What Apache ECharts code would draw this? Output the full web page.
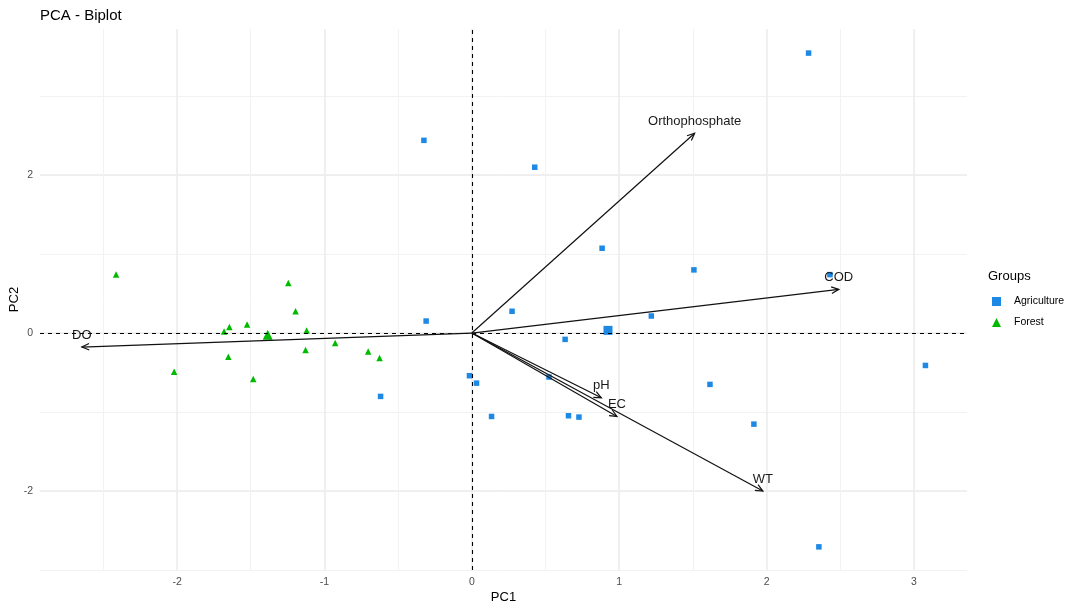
<!DOCTYPE html>
<html>
<head>
<meta charset="utf-8">
<title>PCA - Biplot</title>
<script src="https://cdn.jsdelivr.net/npm/echarts@6/dist/echarts.min.js"></script>
<style>
  html, body { margin: 0; padding: 0; background: #fff; }
  #chart { width: 1073px; height: 609px; }
</style>
</head>
<body>
<div id="chart"></div>
<script>
// Sample scores on the first two principal components
const agriPC1 = [2.285, -0.325, 0.427, 0.884, 1.507, 2.43, 0.273, 1.218, -0.310, 0.633, 3.078,
                 -0.016, 0.032, 0.524, 1.616, -0.619, 0.134, 0.656, 0.727, 1.914, 2.355];
const agriPC2 = [3.545, 2.44, 2.10, 1.074, 0.80, 0.74, 0.276, 0.216, 0.152, -0.08, -0.41,
                 -0.54, -0.634, -0.557, -0.65, -0.802, -1.056, -1.047, -1.064, -1.153, -2.707];
const forestPC1 = [-2.414, -1.245, -1.196, -1.525, -1.645, -1.681, -1.121, -0.927, -1.128,
                   -0.703, -0.626, -1.652, -2.02, -1.483];
const forestPC2 = [0.742, 0.634, 0.275, 0.11, 0.076, 0.02, 0.034, -0.127, -0.215,
                   -0.232, -0.317, -0.30, -0.49, -0.583];

// Group centroids
const agriMean = [0.924, 0.034];
const forestMean = [-1.385, -0.02];

// Variable loadings (scaled for the biplot)
const variables = ['Orthophosphate', 'COD', 'DO', 'pH', 'EC', 'WT'];
const loadPC1 = [1.512, 2.49, -2.646, 0.879, 0.985, 1.975];
const loadPC2 = [2.53, 0.554, -0.177, -0.819, -1.056, -2.00];

const groups = ['Agriculture', 'Forest'];
const groupColors = ['#1E88E5', '#00BA00'];

const FONT = 'Liberation Sans, Arial, sans-serif';
const MINOR = '#F2F2F2';
const MAJOR = '#EDEDED';

const zip = (xs, ys) => xs.map((x, i) => [x, ys[i]]);
const isInt = v => Math.abs(v - Math.round(v)) < 1e-6;

const chart = echarts.init(document.getElementById('chart'));

const xBase = { type: 'value', min: -2.93, max: 3.36, position: 'bottom',
  axisLine: { show: false }, axisTick: { show: false } };
const yBase = { type: 'value', min: -3, max: 3.85, position: 'left',
  axisLine: { show: false }, axisTick: { show: false } };

chart.setOption({
  animation: false,
  backgroundColor: '#ffffff',
  title: [
    { text: 'PCA - Biplot', left: 40, top: 8, padding: 0,
      textStyle: { fontFamily: FONT, fontSize: 15, fontWeight: 'normal', color: '#000' } },
    { text: 'Groups', left: 988, top: 270, padding: 0,
      textStyle: { fontFamily: FONT, fontSize: 13, fontWeight: 'normal', color: '#000' } }
  ],
  legend: {
    data: groups,
    orient: 'vertical',
    left: 992,
    top: 296,
    padding: 0,
    itemWidth: 9,
    itemHeight: 9,
    itemGap: 10,
    textStyle: { fontFamily: FONT, fontSize: 10.5, color: '#000', padding: [0, 0, 0, 8] }
  },
  grid: { left: 40, right: 106, top: 29, bottom: 39, outerBoundsMode: 'none', containLabel: false },
  xAxis: [
    Object.assign({}, xBase, {
      splitNumber: 12, minInterval: 0.5, maxInterval: 0.5,
      name: 'PC1', nameLocation: 'middle', nameGap: 21, nameMoveOverlap: false,
      nameTextStyle: { fontFamily: FONT, fontSize: 13, color: '#000' },
      axisLabel: { margin: 7, fontFamily: FONT, fontSize: 10.5, color: '#4D4D4D',
        formatter: v => isInt(v) ? String(Math.round(v)) : '' },
      splitLine: { show: true, showMinLine: false, showMaxLine: false,
        lineStyle: { color: MINOR, width: 1 } }
    }),
    Object.assign({}, xBase, {
      splitNumber: 6, minInterval: 1, maxInterval: 1,
      axisLabel: { show: false },
      splitLine: { show: true, showMinLine: false, showMaxLine: false,
        lineStyle: { color: MAJOR, width: 1.5 } }
    })
  ],
  yAxis: [
    Object.assign({}, yBase, {
      splitNumber: 7, minInterval: 1, maxInterval: 1,
      name: 'PC2', nameLocation: 'middle', nameGap: 19, nameMoveOverlap: false,
      nameTextStyle: { fontFamily: FONT, fontSize: 13, color: '#000' },
      axisLabel: { margin: 7, fontFamily: FONT, fontSize: 10.5, color: '#4D4D4D',
        formatter: v => (isInt(v) && Math.round(v) % 2 === 0) ? String(Math.round(v)) : '' },
      splitLine: { show: true, showMaxLine: false,
        lineStyle: { color: MINOR, width: 1 } }
    }),
    Object.assign({}, yBase, {
      splitNumber: 3, minInterval: 2, maxInterval: 2,
      axisLabel: { show: false },
      splitLine: { show: true, showMinLine: false, showMaxLine: false,
        lineStyle: { color: MAJOR, width: 1.5 } }
    })
  ],
  series: [
    {
      name: 'Agriculture', type: 'scatter', symbol: 'rect', symbolSize: 5.5,
      itemStyle: { color: groupColors[0], opacity: 1 }, data: zip(agriPC1, agriPC2), z: 3
    },
    {
      name: 'Forest', type: 'scatter', symbol: 'triangle', symbolSize: 6.5,
      itemStyle: { color: groupColors[1], opacity: 1 }, data: zip(forestPC1, forestPC2), z: 3
    },
    {
      name: 'Agriculture', type: 'scatter', symbol: 'rect', symbolSize: 9,
      itemStyle: { color: groupColors[0], opacity: 1 }, data: [agriMean], z: 3
    },
    {
      name: 'Forest', type: 'scatter', symbol: 'triangle', symbolSize: 10,
      itemStyle: { color: groupColors[1], opacity: 1 }, data: [forestMean], z: 3
    },
    {
      name: 'loadings', type: 'custom', z: 5,
      data: variables.map((v, i) => ({ name: v, value: [loadPC1[i], loadPC2[i]] })),
      renderItem: function (params, api) {
        const o = api.coord([0, 0]);
        const t = api.coord([api.value(0), api.value(1)]);
        const ang = Math.atan2(t[1] - o[1], t[0] - o[0]);
        const L = 8, A = Math.PI / 7.5;
        const h1 = [t[0] - L * Math.cos(ang - A), t[1] - L * Math.sin(ang - A)];
        const h2 = [t[0] - L * Math.cos(ang + A), t[1] - L * Math.sin(ang + A)];
        return {
          type: 'group',
          children: [
            { type: 'line', shape: { x1: o[0], y1: o[1], x2: t[0], y2: t[1] },
              style: { stroke: '#111', lineWidth: 1.2 } },
            { type: 'polyline', shape: { points: [h1, t, h2] },
              style: { stroke: '#111', fill: null, lineWidth: 1.2 } },
            { type: 'text', x: t[0], y: t[1] - 12,
              style: { text: variables[params.dataIndex], fill: '#1a1a1a',
                font: '13px ' + FONT, align: 'center', verticalAlign: 'middle' } }
          ]
        };
      },
      markLine: {
        silent: true, symbol: ['none', 'none'], label: { show: false },
        lineStyle: { color: '#000', width: 1.1, type: [4, 4] },
        data: [{ xAxis: 0 }, { yAxis: 0 }]
      }
    }
  ]
});
</script>
</body>
</html>
